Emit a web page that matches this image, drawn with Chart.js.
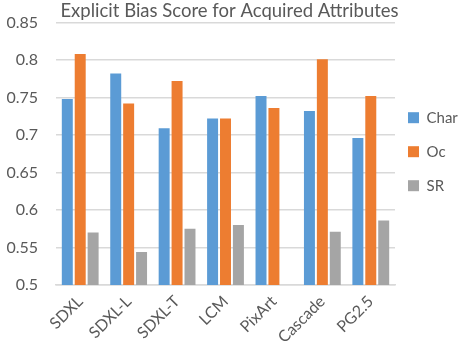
<!DOCTYPE html>
<html><head><meta charset="utf-8">
<script src="https://cdn.jsdelivr.net/npm/chart.js@4"></script>
<style>html,body{margin:0;padding:0;background:#fff}#w{width:459px;height:348px}</style>
</head><body><div id="w"><canvas id="c"></canvas></div>
<script>
const categories = ["SDXL","SDXL-L","SDXL-T","LCM","PixArt","Cascade","PG2.5"];
const charValues = [0.748,0.782,0.709,0.722,0.752,0.732,0.696];
const ocValues = [0.808,0.742,0.772,0.722,0.736,0.801,0.752];
const srValues = [0.570,0.544,0.575,0.580,null,0.571,0.586];
const yTicks = [0.5,0.55,0.6,0.65,0.7,0.75,0.8,0.85];
const FONT = "Lato";
const TXT = "#595959";
const legendFix = {
  id: "legendFix",
  beforeLayout(chart) {
    const lg = chart.legend;
    if (lg && !lg._patched) {
      const of = lg.fit.bind(lg);
      lg.fit = function () { of(); this.width = 64; };
      lg._patched = true;
    }
  },
  afterLayout(chart) {
    const lg = chart.legend;
    if (lg) { lg.left -= 6; lg.width += 6; lg.right = 459; }
  }
};
new Chart(document.getElementById("c"), {
  type: "bar",
  data: {
    labels: categories,
    datasets: [
      {label:"Char", data: charValues, backgroundColor:"#5B9BD5"},
      {label:"Oc", data: ocValues, backgroundColor:"#ED7D31"},
      {label:"SR", data: srValues, backgroundColor:"#A5A5A5"}
    ]
  },
  plugins: [legendFix],
  options: {
    responsive: true, maintainAspectRatio: false, animation: false,
    devicePixelRatio: 1,
    layout: {padding: {left: 0, right: 0, top: 0, bottom: 0}},
    datasets: {bar: {categoryPercentage: 0.8, barPercentage: 0.85}},
    plugins: {
      title: {display: true, text: "Explicit Bias Score for Acquired Attributes", color: TXT,
        font: {family: FONT, size: 18.5, weight: "normal", lineHeight: 1.0}, padding: {top: 1.5, bottom: 2.5}},
      legend: {position: "right", align: "start",
        title: {display: true, text: " ", font: {size: 1}, padding: {top: 90, bottom: 0}},
        labels: {color: TXT, font: {family: FONT, size: 15}, boxWidth: 11, boxHeight: 11, padding: 19}},
      tooltip: {enabled: false}
    },
    scales: {
      x: {
        afterFit: (axis) => { axis.height = 63; },
        grid: {display: false, drawTicks: false},
        border: {color: "#d9d9d9", width: 1.5},
        ticks: {color: TXT, font: {family: FONT, size: 16}, maxRotation: 45, minRotation: 45, padding: 7}
      },
      y: {
        min: 0.5, max: 0.85,
        afterFit: (axis) => { axis.width = 56; },
        afterBuildTicks: (axis) => { axis.ticks = yTicks.map(v => ({value: v})); },
        grid: {color: "#d9d9d9", lineWidth: 1.5, drawTicks: false},
        border: {display: false},
        ticks: {color: TXT, font: {family: FONT, size: 16, lineHeight: 0.2}, padding: 18,
          callback: (v) => String(+Number(v).toFixed(2))}
      }
    }
  }
});
</script></body></html>
